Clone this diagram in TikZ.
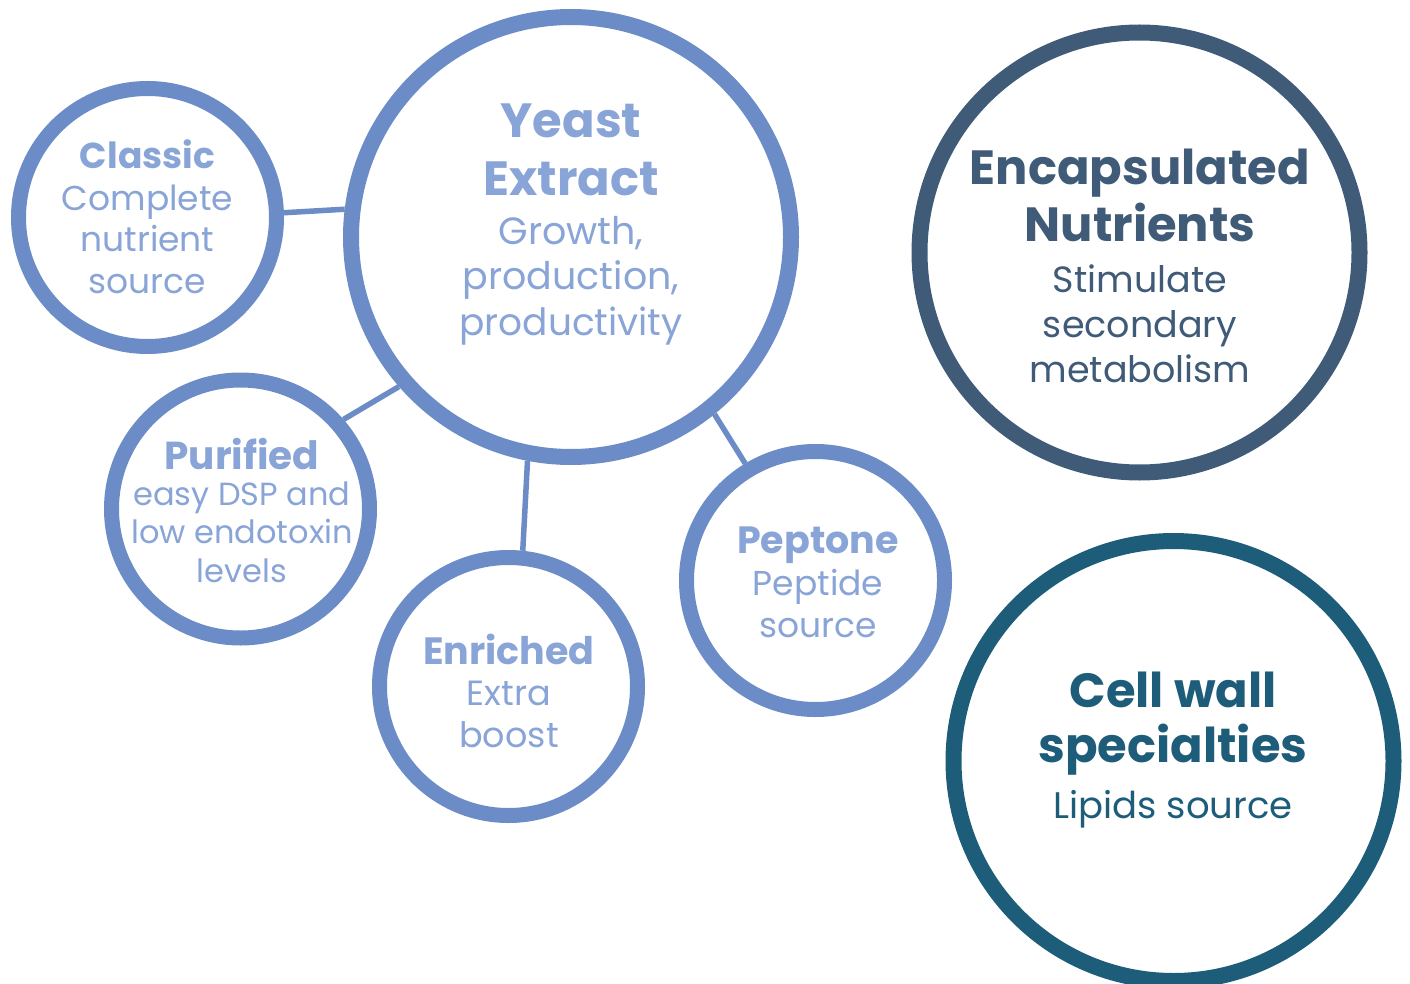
\documentclass[tikz,border=0pt]{standalone}
\usepackage{fontspec}
\setmainfont{Poppins}
\definecolor{lb}{HTML}{6B8CC6}
\definecolor{lt}{HTML}{89A4D6}
\definecolor{navy}{HTML}{3F5B78}
\definecolor{tealc}{HTML}{1E5D7A}
\tikzset{
  ring/.style={circle, draw=#1, fill=white, inner sep=0pt},
  smallring/.style={ring=lb, line width=15pt, minimum size=258pt, outer sep=7.5pt},
  bigring/.style={ring=#1, line width=16pt, minimum size=440pt, outer sep=8pt},
  link/.style={draw=lb, line width=5.5pt},
  ln/.style={anchor=base, inner sep=0pt, outer sep=0pt},
  hb/.style={ln, font=\bfseries\fontsize{#1pt}{#1pt}\selectfont},
  tr/.style={ln, font=\fontsize{#1pt}{#1pt}\selectfont},
}
\begin{document}
\begin{tikzpicture}[x=1pt,y=-1pt]
\useasboundingbox (0,0) rectangle (1410,984);

% rings
\node[bigring=lb] (yeast) at (571,237) {};
\node[smallring] (classic) at (147.5,217.5) {};
\node[smallring] (purified) at (240.5,509) {};
\node[smallring] (enriched) at (508.5,686.5) {};
\node[smallring] (peptone) at (815.5,580.5) {};
\node[bigring=navy] (encaps) at (1139.5,252.5) {};
\node[bigring=tealc] (cellwall) at (1173.5,761) {};

% connectors
\draw[link] (classic.2.3) -- (yeast.173.7);
\draw[link] (purified.41.2) -- (yeast.221.3);
\draw[link] (enriched.84) -- (yeast.259);
\draw[link] (peptone.121) -- (yeast.309);

% Yeast Extract
\begin{scope}[text=lt]
\node[hb=48] (ye1) at (571,138) {Yeast};
\node[hb=48] (ye2) at (571,196) {Extract};
\node[tr=38] (ye3) at (571,245) {Growth,};
\node[tr=38] (ye4) at (571,290) {production,};
\node[tr=37.5] (ye5) at (571,335) {productivity};
% Classic
\node[hb=36] (cl1) at (147.5,169) {Classic};
\node[tr=34.5] (cl2) at (147.5,211) {Complete};
\node[tr=34.5] (cl3) at (147.5,252) {nutrient};
\node[tr=34.5] (cl4) at (147.5,293) {source};
% Purified
\node[hb=39] (pu1) at (242,469) {Purified};
\node[tr=32] (pu2) at (242,505) {easy DSP and};
\node[tr=32] (pu3) at (242,543) {low endotoxin};
\node[tr=32] (pu4) at (242,582) {levels};
% Enriched
\node[hb=38] (en1) at (509,664) {Enriched};
\node[tr=35] (en2) at (509,705) {Extra};
\node[tr=35] (en3) at (509,747) {boost};
% Peptone
\node[hb=38] (pe1) at (818,553) {Peptone};
\node[tr=34.5] (pe2) at (818,595) {Peptide};
\node[tr=34.5] (pe3) at (818,637) {source};
\end{scope}
% Encapsulated
\begin{scope}[text=navy]
\node[hb=48] (ec1) at (1140,185) {Encapsulated};
\node[hb=48] (ec2) at (1140,242) {Nutrients};
\node[tr=36.5] (ec3) at (1140,292) {Stimulate};
\node[tr=36.5] (ec4) at (1140,337) {secondary};
\node[tr=36.5] (ec5) at (1140,382) {metabolism};
\end{scope}
% Cell wall
\begin{scope}[text=tealc]
\node[hb=48] (cw1) at (1173,707) {Cell wall};
\node[hb=48] (cw2) at (1173,762) {specialties};
\node[tr=37] (cw3) at (1173,818) {Lipids source};
\end{scope}
\end{tikzpicture}
\end{document}
